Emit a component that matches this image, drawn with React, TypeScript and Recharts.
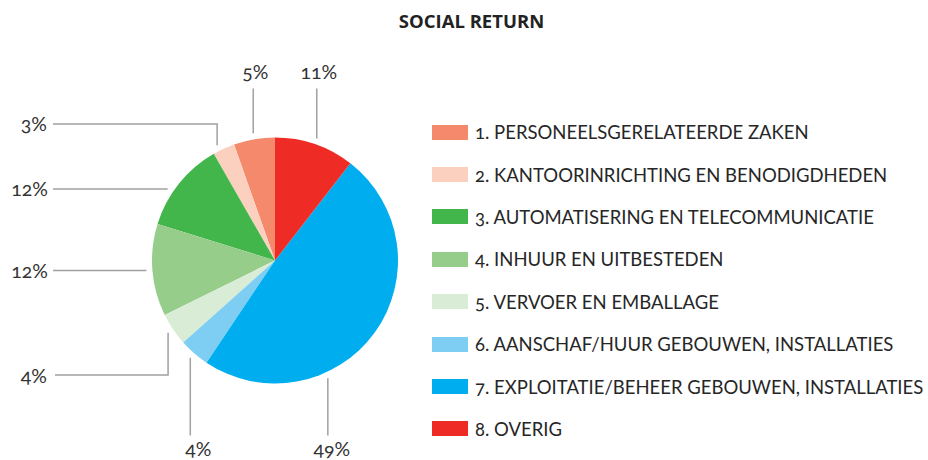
import React from 'react'
import { PieChart, Pie, Cell, Legend } from 'recharts'

const CATEGORIES = [
  '1. PERSONEELSGERELATEERDE ZAKEN',
  '2. KANTOORINRICHTING EN BENODIGDHEDEN',
  '3. AUTOMATISERING EN TELECOMMUNICATIE',
  '4. INHUUR EN UITBESTEDEN',
  '5. VERVOER EN EMBALLAGE',
  '6. AANSCHAF/HUUR GEBOUWEN, INSTALLATIES',
  '7. EXPLOITATIE/BEHEER GEBOUWEN, INSTALLATIES',
  '8. OVERIG',
]
const VALUES = [5.4, 2.9, 11.9, 12.1, 4.3, 4.0, 48.9, 10.5]
const PCT_LABELS = ['5%', '3%', '12%', '12%', '4%', '4%', '49%', '11%']
const COLORS = ['#f4896b', '#fcd0bf', '#42b64a', '#97cd8a', '#d9edd6', '#7ecef3', '#00aeef', '#ee2b24']

// how each leader line is routed, and a small angle nudge in degrees
const LABEL_LAYOUT = [
  { kind: 'up', shift: 0 },
  { kind: 'elbowUp', shift: 2 },
  { kind: 'left', shift: 5 },
  { kind: 'left', shift: 0 },
  { kind: 'elbowDown', shift: 0 },
  { kind: 'down', shift: 0, dx: 8 },
  { kind: 'down', shift: -30, dx: 4 },
  { kind: 'up', shift: 0 },
]

const data = CATEGORIES.map((name, i) => ({ name, value: VALUES[i] }))

const FONT = 'Lato, "Open Sans", sans-serif'
const LINE = '#a0a0a0'
const TEXT = '#333'

const renderLabel = (props: any) => {
  const { cx, cy, midAngle, outerRadius, index } = props
  const lay: any = LABEL_LAYOUT[index]
  const a = ((midAngle + lay.shift) * Math.PI) / 180
  const R = outerRadius + 6
  const x = cx + R * Math.cos(a)
  const y = cy - R * Math.sin(a)
  let pts: number[][] = []
  let tx = 0
  let ty = 0
  let anchor: 'start' | 'middle' | 'end' = 'middle'
  let base: any = 'auto'
  if (lay.kind === 'up') {
    pts = [[x, y], [x, cy - 172]]
    tx = x + 2; ty = cy - 182
  } else if (lay.kind === 'elbowUp') {
    pts = [[x, y], [x, cy - 136.5], [53, cy - 136.5]]
    tx = 47; ty = cy - 137.5; anchor = 'end'; base = 'central'
  } else if (lay.kind === 'left') {
    pts = [[x, y], [53, y]]
    tx = 48; ty = y; anchor = 'end'; base = 'central'
  } else if (lay.kind === 'elbowDown') {
    pts = [[x, y], [x, cy + 114.5], [55, cy + 114.5]]
    tx = 47; ty = cy + 114.5; anchor = 'end'; base = 'central'
  } else {
    pts = [[x, y], [x, cy + 175]]
    tx = x + (lay.dx || 0); ty = cy + 195
  }
  return (
    <g key={`lbl-${index}`}>
      <polyline points={pts.map(p => p.join(',')).join(' ')} fill="none" stroke={LINE} strokeWidth={1.5} />
      <text x={tx} y={ty} textAnchor={anchor} dominantBaseline={base} fill={TEXT}
        style={{ fontFamily: FONT, fontSize: 19.5, fontVariantNumeric: 'oldstyle-nums' }}>
        {PCT_LABELS[index]}
      </text>
    </g>
  )
}

const renderLegend = () => (
  <div style={{ fontFamily: FONT, fontSize: 18.5, color: '#262626', fontVariantNumeric: 'oldstyle-nums' }}>
    {CATEGORIES.map((c, i) => (
      <div key={c} style={{ display: 'flex', alignItems: 'center', height: 42.4, whiteSpace: 'nowrap' }}>
        <span style={{ display: 'inline-block', width: 36, height: 15, background: COLORS[i], marginRight: 7 }} />
        <span>{c}</span>
      </div>
    ))}
  </div>
)

export default function App() {
  return (
    <div style={{ position: 'absolute', left: 0, top: 0, width: 928, height: 460, background: '#fff', overflow: 'hidden' }}>
      <div style={{ position: 'absolute', left: 0, top: 8, width: 943, textAlign: 'center', fontFamily: '"Open Sans", sans-serif',
        fontWeight: 700, fontSize: 18.5, color: '#222' }}>
        SOCIAL RETURN
      </div>
      <PieChart width={928} height={460} margin={{ top: 0, right: 0, bottom: 0, left: 0 }}>
        <Pie
          data={data}
          dataKey="value"
          nameKey="name"
          cx={275}
          cy={260.5}
          outerRadius={123}
          startAngle={90}
          endAngle={450}
          stroke="none"
          label={renderLabel}
          labelLine={false}
          isAnimationActive={false}
        >
          {data.map((d, i) => <Cell key={d.name} fill={COLORS[i]} />)}
        </Pie>
        <Legend layout="vertical" align="right" verticalAlign="top" content={renderLegend}
          wrapperStyle={{ left: 432, top: 111, width: 496 }} />
      </PieChart>
    </div>
  )
}
